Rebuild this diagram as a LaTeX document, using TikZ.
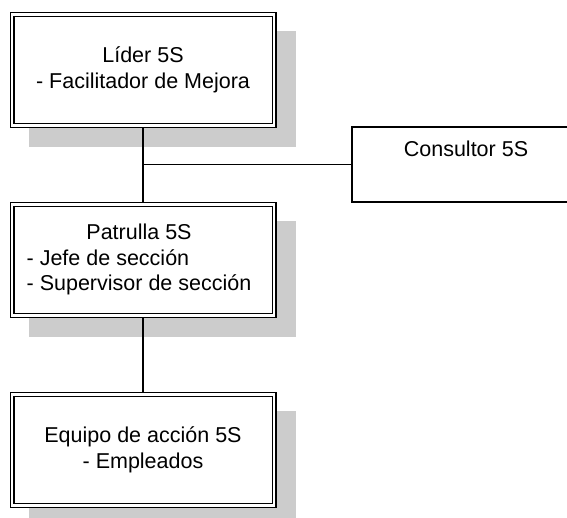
\documentclass[tikz,border=0pt]{standalone}
\usepackage{fontspec}
\setmainfont{Liberation Sans}
\usetikzlibrary{positioning}
\usetikzlibrary{backgrounds}

\tikzset{
    dblbox/.style={draw, double, double distance=2.6pt, line width=1.2pt, outer sep=2.5pt,
        fill=white, minimum width=262pt, minimum height=111pt, align=center},
    plainbox/.style={draw, line width=1.2pt, fill=white, minimum width=228pt, minimum height=75pt},
    shadowfill/.style={fill=black!20},
    conn/.style={line width=1.2pt}
}

\begin{document}
\begin{tikzpicture}[x=1pt, y=-1pt, font=\fontsize{21.5}{25.5}\selectfont]
    \useasboundingbox (0,0) rectangle (567,518);
    \clip (0,0) rectangle (567,518);
    \node[dblbox] (lider) at (143,70) {Líder 5S\\- Facilitador de Mejora};
    \node[dblbox] (patrulla) at (143,260) {\begin{tabular}{@{}l@{}}\multicolumn{1}{@{}c@{}}{Patrulla 5S}\\- Jefe de sección\\- Supervisor de sección\end{tabular}\kern8pt};
    \node[dblbox] (equipo) at (143,450) {Equipo de acción 5S\\- Empleados};
    \node[plainbox] (consultor) at (466,164.5) {};
    \node[anchor=base] (consultorlbl) at (466,157) {Consultor 5S};

    \draw[conn] (lider.south) -- (patrulla.north);
    \coordinate (junc) at (lider.south |- consultor.west);
    \draw[conn] (junc) -- (consultor.west);
    \draw[conn] (patrulla.south) -- (equipo.north);

    % shadows behind the boxes
    \begin{scope}[on background layer]
        \foreach \b in {lider, patrulla, equipo}
            \fill[shadowfill] ([shift={(19,19)}]\b.north west) rectangle ([shift={(19,19)}]\b.south east);
    \end{scope}
\end{tikzpicture}
\end{document}
